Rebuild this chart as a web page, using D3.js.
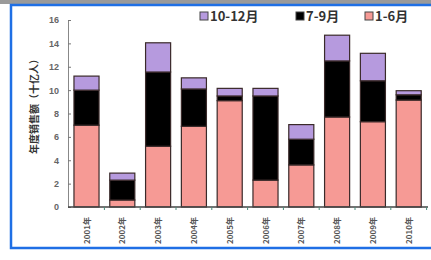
<!DOCTYPE html>
<html>
<head>
<meta charset="utf-8">
<script src="https://cdn.jsdelivr.net/npm/d3@7"></script>
<style>
body { margin: 0; background: #fff; }
svg { display: block; font-family: "Noto Sans CJK SC", "DejaVu Sans", sans-serif; }
</style>
</head>
<body>
<div class="container"></div>
<script>
var years = ["2001年", "2002年", "2003年", "2004年", "2005年", "2006年", "2007年", "2008年", "2009年", "2010年"];
var h1 = [7.0, 0.6, 5.2, 6.9, 9.1, 2.3, 3.6, 7.7, 7.3, 9.15];
var q3 = [3.0, 1.7, 6.35, 3.2, 0.4, 7.2, 2.2, 4.8, 3.5, 0.45];
var q4 = [1.2, 0.6, 2.5, 0.95, 0.65, 0.65, 1.25, 2.2, 2.35, 0.35];
var seriesNames = ["1-6月", "7-9月", "10-12月"];
var yTicks = [0, 2, 4, 6, 8, 10, 12, 14, 16];
var colors = { "1-6月": "#f69a95", "7-9月": "#000000", "10-12月": "#b69ade" };

var width = 431, height = 260;
var svg = d3.select(".container").append("svg")
    .attr("width", width)
    .attr("height", height);

// window strip + blue frame
svg.append("rect").attr("x", 0).attr("y", 0).attr("width", width).attr("height", 4).attr("fill", "#9a9a9a");
svg.append("rect").attr("x", 11).attr("y", 5).attr("width", width).attr("height", 243)
    .attr("fill", "#fff").attr("stroke", "#1f6fe5").attr("stroke-width", 2.5);

var rows = years.map(function(y, i) {
    return { year: y, "1-6月": h1[i], "7-9月": q3[i], "10-12月": q4[i] };
});
var stacked = d3.stack().keys(seriesNames)(rows);

var x = d3.scaleBand().domain(years).range([68.6, 426.6]).paddingInner(0.3).paddingOuter(0.15);
var y = d3.scaleLinear().domain([0, 16]).range([207, 20]);

svg.selectAll(".layer")
    .data(stacked)
    .enter().append("g")
    .attr("fill", function(d) { return colors[d.key]; })
    .selectAll("rect")
    .data(function(d) { return d; })
    .enter().append("rect")
    .attr("x", function(d) { return x(d.data.year); })
    .attr("width", x.bandwidth())
    .attr("y", function(d) { return y(d[1]); })
    .attr("height", function(d) { return y(d[0]) - y(d[1]); })
    .attr("stroke", "#3a2a2a")
    .attr("stroke-width", 1.2);

// y axis
var yAxis = svg.append("g")
    .attr("transform", "translate(68,0)")
    .call(d3.axisLeft(y).tickValues(yTicks).tickSize(3).tickSizeOuter(0));
yAxis.select(".domain").attr("stroke", "#888");
yAxis.selectAll(".tick line").attr("stroke", "#777").attr("x2", 3);
yAxis.selectAll("text").attr("fill", "#666").attr("font-size", 9).attr("font-weight", "bold").attr("x", -9);

// x axis
var xAxis = svg.append("g").attr("transform", "translate(0,207)");
xAxis.append("line").attr("x1", 68).attr("x2", 428).attr("stroke", "#444").attr("stroke-width", 1.5);
xAxis.selectAll(".bt")
    .data(years)
    .enter().append("line")
    .attr("x1", function(d) { return x(d) + x.bandwidth() + x.step() * 0.15; })
    .attr("x2", function(d) { return x(d) + x.bandwidth() + x.step() * 0.15; })
    .attr("y1", 0).attr("y2", 3)
    .attr("stroke", "#4a8a7a");
xAxis.selectAll(".lbl")
    .data(years)
    .enter().append("text")
    .attr("transform", function(d) { return "translate(" + (x(d) + x.bandwidth() / 2 + 3) + ",10) rotate(-90)"; })
    .attr("text-anchor", "end")
    .attr("font-size", 8)
    .attr("font-weight", "bold")
    .attr("fill", "#555")
    .text(function(d) { return d; });

// y title
svg.append("text")
    .attr("transform", "translate(38,104) rotate(-90)")
    .attr("text-anchor", "middle")
    .attr("font-size", 10)
    .attr("font-weight", "bold")
    .attr("fill", "#333")
    .text("年度销售额（十亿人）");

// legend
var legendItems = [
    { name: "10-12月", x: 200 },
    { name: "7-9月", x: 296 },
    { name: "1-6月", x: 365 }
];
var lg = svg.selectAll(".lg").data(legendItems).enter().append("g")
    .attr("transform", function(d) { return "translate(" + d.x + ",12)"; });
lg.append("rect").attr("width", 8).attr("height", 8)
    .attr("fill", function(d) { return colors[d.name]; })
    .attr("stroke", "#444").attr("stroke-width", 1);
lg.append("text").attr("x", 10).attr("y", 8.5)
    .attr("font-size", 13).attr("font-weight", "bold").attr("fill", "#333")
    .text(function(d) { return d.name; });
</script>
</body>
</html>
